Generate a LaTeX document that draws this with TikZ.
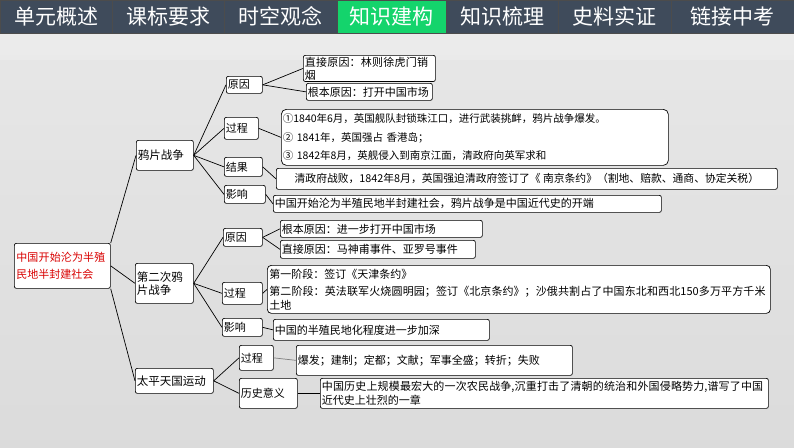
\documentclass[tikz,border=0pt]{standalone}
\usepackage{fontspec}
\setmainfont{Noto Sans CJK SC}
\XeTeXlinebreaklocale "zh"
\XeTeXlinebreakskip=0pt plus 1pt
\tikzset{
 bx/.style={draw=black,line width=0.7pt,rounded corners=2pt,fill=white,inner sep=1.5pt,font=\fontsize{11}{13}\selectfont,align=left,anchor=north west},
 tab/.style={fill=headc,draw=gray!60!black,line width=0.4pt,text=white,font=\fontsize{21}{24}\selectfont,minimum height=33pt,anchor=north west,inner sep=0pt},
 ln/.style={line width=0.7pt,black}
}
\definecolor{headc}{HTML}{3F4B5B}
\definecolor{greentab}{HTML}{14D46C}
\newcommand{\bxnode}[6]{\node[bx,minimum width=#4pt-#2pt,minimum height=#5pt-#3pt,text width=#4pt-#2pt-3pt] (#1) at (#2pt,-#3pt) {#6};}
\begin{document}
\begin{tikzpicture}[x=1pt,y=1pt]
\useasboundingbox (0,0) rectangle (794,-447);
\fill[top color=gray!18,bottom color=gray!28] (0,0) rectangle (794,-447);
\fill[white!85!gray,opacity=0.8] (0,-33) rectangle (794,-60);
% tabs
\foreach \a/\b/\t [count=\i] in {0/112/单元概述,112/224/课标要求,224/337/时空观念,337/446/知识建构,446/558/知识梳理,558/671/史料实证,671/794/链接中考}{
 \node[tab,minimum width=\b pt-\a pt] (tab\i) at (\a,0) {\t};}
\node[tab,fill=greentab,minimum width=109pt] (tabg) at (337,0) {知识建构};
% level 0/1
\node[bx,minimum width=96pt,minimum height=45pt,text width=92pt,text=red!85!black,font=\fontsize{11}{17}\selectfont] (root) at (14,-243) {中国开始沦为半殖民地半封建社会};
\bxnode{op}{136}{140}{193}{170}{\fontsize{11.5}{13}\selectfont 鸦片战争}
\bxnode{sop}{135}{263}{193}{303}{\fontsize{11.5}{16}\selectfont 第二次鸦\\片战争}
\bxnode{tp}{135}{368}{213}{393}{\fontsize{11.5}{13}\selectfont 太平天国运动}
% opium war
\bxnode{a1}{226}{76}{262}{93}{原因}
\bxnode{a2}{224}{117}{258}{139}{过程}
\bxnode{a3}{224}{157}{262}{176}{结果}
\bxnode{a4}{224}{185}{265}{203}{影响}
\bxnode{b1}{303}{55}{435}{72}{直接原因：林则徐虎门销烟}
\bxnode{b2}{306}{83}{432}{100}{根本原因：打开中国市场}
\node[bx,minimum width=387pt,minimum height=56pt,text width=384pt,rounded corners=5pt,font=\fontsize{10.5}{18.5}\selectfont] (b3) at (281,-109) {①1840年6月，英国舰队封锁珠江口，进行武装挑衅，鸦片战争爆发。\\② 1841年，英国强占 香港岛；\\③ 1842年8月，英舰侵入到南京江面，清政府向英军求和};
\node[bx,minimum width=501pt,minimum height=21pt,font=\fontsize{10.8}{13}\selectfont] (b4) at (276,-168) {清政府战败，1842年8月，英国强迫清政府签订了《 南京条约》（割地、赔款、通商、协定关税）};
\bxnode{b5}{273}{195}{661}{212}{中国开始沦为半殖民地半封建社会，鸦片战争是中国近代史的开端}
% second
\bxnode{c1}{223}{228}{262}{246}{原因}
\bxnode{c2}{222}{282}{262}{304}{过程}
\bxnode{c3}{222}{318}{262}{336}{影响}
\bxnode{d1}{280}{220}{482}{237}{根本原因：进一步打开中国市场}
\bxnode{d2}{280}{240}{475}{258}{直接原因：马神甫事件、亚罗号事件}
\node[bx,minimum width=503pt,minimum height=48pt,text width=499pt,rounded corners=4pt,font=\fontsize{11}{14}\selectfont] (d3) at (267,-265) {第一阶段：签订《天津条约》\\[3pt]第二阶段：英法联军火烧圆明园；签订《北京条约》；沙俄共割占了中国东北和西北150多万平方千米土地};
\bxnode{d4}{273}{319}{489}{340}{中国的半殖民地化程度进一步加深}
% taiping
\bxnode{e1}{239}{345}{273}{370}{过程}
\bxnode{e2}{239}{378}{297}{408}{历史意义}
\bxnode{f1}{296}{345}{572}{375}{爆发；建制；定都；文献；军事全盛；转折；失败}
\node[bx,minimum width=448pt,minimum height=30pt,text width=445pt,font=\fontsize{11}{13.5}\selectfont] (f2) at (320,-378) {中国历史上规模最宏大的一次农民战争,沉重打击了清朝的统治和外国侵略势力,谱写了中国近代史上壮烈的一章};
% connectors
\draw[ln] (root.north east) -- (op.west);
\draw[ln] (root.east) -- (sop.west);
\draw[ln] (root.south east) -- (tp.west);
\foreach \c in {a1,a2,a3,a4} \draw[ln] (op.east) -- (\c.west);
\draw[ln] (a1.east) -- (b1.west); \draw[ln] (a1.east) -- (b2.west);
\draw[ln] (a2.east) -- (b3.west);
\draw[ln] (a3.east) -- (b4.west);
\draw[ln] (a4.east) -- (b5.west);
\foreach \c in {c1,c2,c3} \draw[ln] (sop.east) -- (\c.west);
\draw[ln] (c1.east) -- (d1.west); \draw[ln] (c1.east) -- (d2.west);
\draw[ln] (c2.east) -- (d3.west);
\draw[ln] (c3.east) -- (d4.west);
\draw[ln] (tp.east) -- (e1.west); \draw[ln] (tp.east) -- (e2.west);
\draw[ln,gray] (e1.east) -- (f1.west);
\draw[ln] (e2.east) -- (f2.west);
\end{tikzpicture}
\end{document}
